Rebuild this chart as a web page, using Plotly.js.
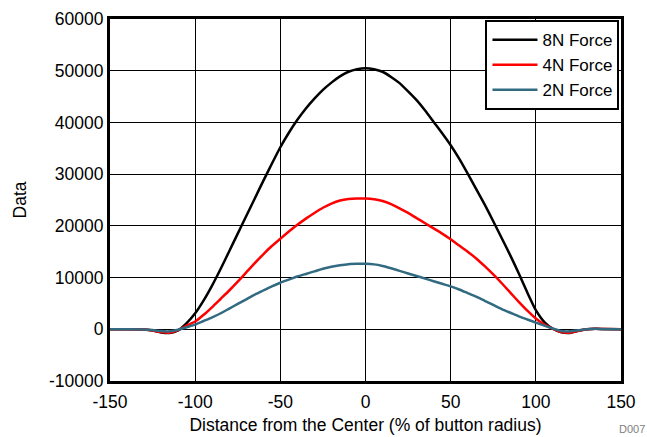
<!DOCTYPE html>
<html>
<head>
<meta charset="utf-8">
<script src="https://cdn.plot.ly/plotly-3.0.1.min.js"></script>
<style>
html,body{margin:0;padding:0;background:#fff;}
#chart{width:647px;height:437px;}
</style>
</head>
<body>
<div id="chart"></div>
<script>
const xVals = [-150,-140,-130,-125,-120,-115,-110,-105,-100,-95,-90,-85,-80,-75,-70,-65,-60,-55,-50,-45,-40,-35,-30,-25,-20,-15,-10,-5,0,
  5,10,15,20,25,30,35,40,45,50,55,60,65,70,75,80,85,90,95,100,105,110,115,120,125,130,135,140,150];

const force8N = [0,0,-50,-250,-600,-700,-200,1200,3100,5600,8500,11700,15100,18500,21900,25300,28700,32000,35200,38000,40500,42700,44600,46300,47700,48900,49800,50300,50500,
  50300,49800,48800,47600,46000,44300,42300,40100,37900,35600,33000,30100,27100,24100,20900,17600,14300,10800,7100,3700,1400,100,-600,-700,-300,0,100,50,0];

const force4N = [0,0,-50,-250,-550,-650,-150,700,1500,2800,4300,5900,7500,9200,11000,12800,14500,16100,17500,18900,20200,21400,22500,23500,24300,24900,25200,25300,25300,
  25150,24800,24200,23400,22500,21500,20500,19500,18500,17400,16200,15000,13700,12200,10600,8900,7100,5300,3600,2100,900,100,-550,-650,-300,0,100,50,0];

const force2N = [0,0,-30,-150,-350,-400,-100,400,900,1600,2300,3100,4000,4900,5800,6700,7500,8300,9000,9600,10200,10700,11200,11700,12100,12400,12600,12650,12650,
  12550,12250,11800,11300,10800,10300,9800,9300,8800,8300,7700,7000,6300,5500,4700,3900,3200,2500,1900,1300,700,150,-350,-400,-200,0,80,30,0];

const seriesNames = ["8N Force","4N Force","2N Force"];
const xTicks = [-150,-100,-50,0,50,100,150];
const yTicks = [-10000,0,10000,20000,30000,40000,50000,60000];

const font = "Liberation Sans, Arial, sans-serif";
const fs = 17.5;
const traces = [
  {x:xVals, y:force8N, name:seriesNames[0], mode:"lines", line:{color:"#000000", width:2.5, shape:"spline", smoothing:0.5}},
  {x:xVals, y:force4N, name:seriesNames[1], mode:"lines", line:{color:"#ff0000", width:2.5, shape:"spline", smoothing:0.5}},
  {x:xVals, y:force2N, name:seriesNames[2], mode:"lines", line:{color:"#326a82", width:2.5, shape:"spline", smoothing:0.5}}
];

const layout = {
  width:647, height:437,
  margin:{l:110, r:26, t:19, b:56},
  paper_bgcolor:"#ffffff", plot_bgcolor:"#ffffff",
  font:{family:font, size:fs, color:"#000"},
  showlegend:true,
  legend:{x:0.997, y:0.997, xanchor:"right", yanchor:"top", bgcolor:"#ffffff", bordercolor:"#000", borderwidth:2,
          font:{family:font, size:17, color:"#000"}, tracegroupgap:0, itemwidth:45},
  xaxis:{range:[-150,150], tickvals:xTicks, ticktext:xTicks.map(String), showgrid:true, gridcolor:"#000", gridwidth:1,
         zeroline:false, showline:true, linecolor:"#000", linewidth:3, mirror:true, ticks:"", ticklen:0, ticklabelstandoff:3,
         tickfont:{family:font, size:fs, color:"#000"},
         title:{text:"Distance from the Center (% of button radius)", font:{family:font, size:fs, color:"#000"}, standoff:8}},
  yaxis:{range:[-10000,60000], tickvals:yTicks, ticktext:yTicks.map(String), showgrid:true, gridcolor:"#000", gridwidth:1,
         zeroline:false, showline:true, linecolor:"#000", linewidth:3, mirror:true, ticks:"", ticklen:0,
         tickfont:{family:font, size:fs, color:"#000"},
         title:{text:"Data", font:{family:font, size:fs, color:"#000"}, standoff:18}},
  annotations:[{text:"D007", xref:"paper", yref:"paper", x:(647-110)/511, y:(381-429)/362, xanchor:"right", yanchor:"middle", showarrow:false,
                font:{family:font, size:11, color:"#808080"}}]
};

Plotly.newPlot("chart", traces, layout, {displayModeBar:false, staticPlot:true});
</script>
</body>
</html>
